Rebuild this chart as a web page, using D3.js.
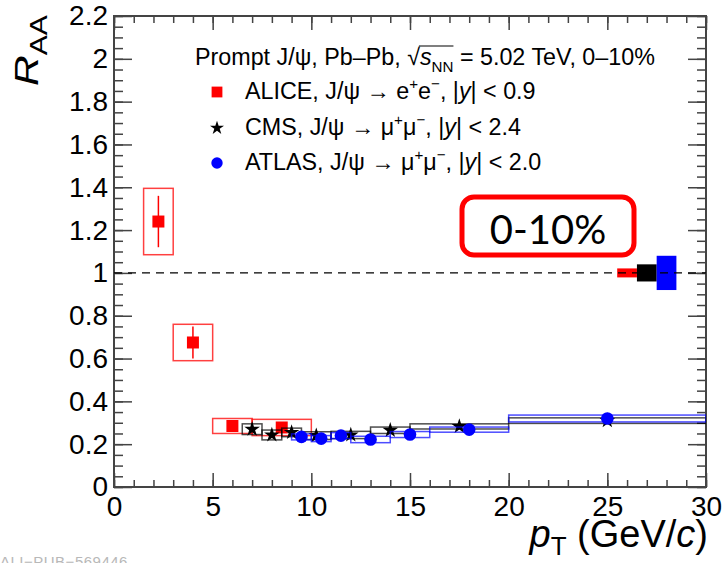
<!DOCTYPE html>
<html>
<head>
<meta charset="utf-8">
<script src="https://cdn.jsdelivr.net/npm/d3@7"></script>
<style>
  body { margin: 0; background: #fff; }
  svg { display: block; font-family: "Liberation Sans", Arial, sans-serif; }
</style>
</head>
<body>
<svg width="725" height="563"></svg>
<script>
// ALICE, J/psi -> e+e-, |y| < 0.9
var aliceX    = [2.25, 4, 6, 8.5];
var aliceLo   = [1.5, 3, 5, 7];
var aliceHi   = [3, 5, 7, 10];
var aliceY    = [1.24, 0.675, 0.285, 0.278];
var aliceStat = [0.12, 0.075, 0.02, 0.025];
var aliceSys  = [0.155, 0.085, 0.035, 0.038];

// CMS, J/psi -> mu+mu-, |y| < 2.4
var cmsX    = [7, 8, 9, 10.25, 12, 14, 17.5, 25];
var cmsLo   = [6.5, 7.5, 8.5, 9.5, 11, 13, 15, 20];
var cmsHi   = [7.5, 8.5, 9.5, 11, 13, 15, 20, 30];
var cmsY    = [0.27, 0.243, 0.255, 0.24, 0.243, 0.265, 0.283, 0.31];
var cmsStat = [0.012, 0.01, 0.01, 0.008, 0.008, 0.008, 0.008, 0.012];
var cmsSys  = [0.025, 0.023, 0.02, 0.018, 0.017, 0.015, 0.012, 0.013];

// ATLAS, J/psi -> mu+mu-, |y| < 2.0
var atlasX    = [9.5, 10.5, 11.5, 13, 15, 18, 25];
var atlasLo   = [9, 10, 11, 12, 14, 16, 20];
var atlasHi   = [10, 11, 12, 14, 16, 20, 30];
var atlasY    = [0.234, 0.226, 0.24, 0.222, 0.245, 0.268, 0.32];
var atlasStat = [0.008, 0.008, 0.008, 0.008, 0.009, 0.01, 0.02];
var atlasSys  = [0.014, 0.014, 0.014, 0.015, 0.014, 0.012, 0.016];

// global (correlated) uncertainties at R_AA = 1
var globalLo  = [25.5, 26.5, 27.5];
var globalHi  = [26.5, 27.5, 28.5];
var globalErr = [0.021, 0.04, 0.08];
var globalCol = ["#ff0000", "#000000", "#0000ff"];

var xTicks = [0, 5, 10, 15, 20, 25, 30];
var yTicks = [0, 0.2, 0.4, 0.6, 0.8, 1, 1.2, 1.4, 1.6, 1.8, 2, 2.2];

var svg = d3.select("svg");
var L = 114, R = 706, T = 16, B = 487;

var x = d3.scaleLinear().domain([0, 30]).range([L, R]);
var y = d3.scaleLinear().domain([0, 2.2]).range([B, T]);

var axisCol = "#444";

// minor / major ticks, inside the frame
function ticks(axis, g) {
    g.call(axis);
    g.select(".domain").remove();
    g.selectAll("line").attr("stroke", axisCol).attr("stroke-width", 1.5);
}
var xMinor = d3.range(0, 31, 1);
var yMinor = d3.range(0, 2.2001, 0.05);

ticks(d3.axisBottom(x).tickValues(xMinor).tickSize(-7).tickFormat(""),
      svg.append("g").attr("transform", "translate(0," + B + ")"));
ticks(d3.axisTop(x).tickValues(xMinor).tickSize(-7).tickFormat(""),
      svg.append("g").attr("transform", "translate(0," + T + ")"));
ticks(d3.axisLeft(y).tickValues(yMinor).tickSize(-9).tickFormat(""),
      svg.append("g").attr("transform", "translate(" + L + ",0)"));
ticks(d3.axisRight(y).tickValues(yMinor).tickSize(-9).tickFormat(""),
      svg.append("g").attr("transform", "translate(" + R + ",0)"));

var xAx = svg.append("g").attr("transform", "translate(0," + B + ")");
ticks(d3.axisBottom(x).tickValues(xTicks).tickSize(-14).tickPadding(9).tickFormat(d3.format("d")), xAx);
ticks(d3.axisTop(x).tickValues(xTicks).tickSize(-14).tickFormat(""),
      svg.append("g").attr("transform", "translate(0," + T + ")"));
var yAx = svg.append("g").attr("transform", "translate(" + L + ",0)");
ticks(d3.axisLeft(y).tickValues(yTicks).tickSize(-18).tickPadding(6).tickFormat(function(d) { return d3.format("~g")(d); }), yAx);
ticks(d3.axisRight(y).tickValues(yTicks).tickSize(-18).tickFormat(""),
      svg.append("g").attr("transform", "translate(" + R + ",0)"));

svg.selectAll("g text")
    .attr("fill", "#000")
    .attr("font-family", "Liberation Sans, Arial, sans-serif")
    .attr("font-size", 28);

svg.append("rect")
    .attr("x", L).attr("y", T).attr("width", R - L).attr("height", B - T)
    .attr("fill", "none").attr("stroke", axisCol).attr("stroke-width", 2);

// plot content clipped to the frame
svg.append("clipPath").attr("id", "frame")
    .append("rect").attr("x", L).attr("y", T).attr("width", R - L).attr("height", B - T);
var plot = svg.append("g").attr("clip-path", "url(#frame)");

// global boxes then dashed unity line
globalLo.forEach(function(lo, i) {
    plot.append("rect")
        .attr("x", x(lo)).attr("width", x(globalHi[i]) - x(lo))
        .attr("y", y(1 + globalErr[i])).attr("height", y(1 - globalErr[i]) - y(1 + globalErr[i]))
        .attr("fill", globalCol[i]);
});
plot.append("line")
    .attr("x1", x(0)).attr("x2", x(30)).attr("y1", y(1)).attr("y2", y(1))
    .attr("stroke", "#000").attr("stroke-width", 1.3).attr("stroke-dasharray", "8,6");

function series(X, Lo, Hi, Y, St, Sy, boxCol, col, marker) {
    var g = plot.append("g");
    g.selectAll("rect.sys").data(X).enter().append("rect")
        .attr("x", function(d, i) { return x(Lo[i]); })
        .attr("width", function(d, i) { return x(Hi[i]) - x(Lo[i]); })
        .attr("y", function(d, i) { return y(Y[i] + Sy[i]); })
        .attr("height", function(d, i) { return y(Y[i] - Sy[i]) - y(Y[i] + Sy[i]); })
        .attr("fill", "none").attr("stroke", boxCol).attr("stroke-width", 1.5);
    g.selectAll("line.stat").data(X).enter().append("line")
        .attr("x1", function(d) { return x(d); }).attr("x2", function(d) { return x(d); })
        .attr("y1", function(d, i) { return y(Y[i] + St[i]); })
        .attr("y2", function(d, i) { return y(Y[i] - St[i]); })
        .attr("stroke", col).attr("stroke-width", 1.5);
    g.selectAll("path.mk").data(X).enter().append("path")
        .attr("d", marker)
        .attr("transform", function(d, i) { return "translate(" + x(d) + "," + y(Y[i]) + ")"; })
        .attr("fill", col);
}

var sqMark = "M-6,-6H6V6H-6Z";
var starMark = d3.symbol().type(d3.symbolStar).size(75)();
var dotMark = d3.symbol().type(d3.symbolCircle).size(125)();

series(aliceX, aliceLo, aliceHi, aliceY, aliceStat, aliceSys, "rgba(255,0,0,0.75)", "#ff0000", sqMark);
series(cmsX, cmsLo, cmsHi, cmsY, cmsStat, cmsSys, "rgba(0,0,0,0.7)", "#000", starMark);
series(atlasX, atlasLo, atlasHi, atlasY, atlasStat, atlasSys, "rgba(0,0,255,0.7)", "#0000ff", dotMark);

// rich text helper: [text, kind] with kind in "", "i", "sup", "sub"
function rich(t, parts, fs) {
    var shift = 0;
    parts.forEach(function(p) {
        var target = p[1] === "sup" ? -0.42 * fs : (p[1] === "sub" ? 0.3 * fs : 0);
        var ts = t.append("tspan").attr("dy", target - shift).text(p[0]);
        shift = target;
        if (p[1] === "sup" || p[1] === "sub") ts.attr("font-size", fs * 0.65);
        if (p[1] === "i") ts.attr("font-style", "italic");
    });
    return t;
}

// legend
var lf = 23.3;
var head = rich(svg.append("text").attr("x", 195).attr("y", 65).attr("font-size", lf),
    [["Prompt J/\u03C8, Pb\u2013Pb, \u221A", ""], ["s", "i"], ["NN", "sub"], [" = 5.02 TeV, 0\u201310%", ""]], lf);
(function() {
    var n = head.node(), s = n.textContent;
    var i0 = s.indexOf("\u221A"), i1 = s.indexOf("NN") + 1;
    var a = n.getExtentOfChar(i0), b = n.getExtentOfChar(i1);
    svg.append("line")
        .attr("x1", a.x + a.width - 1).attr("x2", b.x + b.width)
        .attr("y1", a.y + 2).attr("y2", a.y + 2)
        .attr("stroke", "#000").attr("stroke-width", 1.2);
})();

var legRows = [
    { y: 99, mark: sqMark, col: "#ff0000", parts: [["ALICE, J/\u03C8 \u2192 e", ""], ["+", "sup"], ["e", ""], ["\u2212", "sup"], [", |", ""], ["y", "i"], ["| < 0.9", ""]] },
    { y: 135, mark: starMark, col: "#000", parts: [["CMS, J/\u03C8 \u2192 \u03BC", ""], ["+", "sup"], ["\u03BC", ""], ["\u2212", "sup"], [", |", ""], ["y", "i"], ["| < 2.4", ""]] },
    { y: 170, mark: dotMark, col: "#0000ff", parts: [["ATLAS, J/\u03C8 \u2192 \u03BC", ""], ["+", "sup"], ["\u03BC", ""], ["\u2212", "sup"], [", |", ""], ["y", "i"], ["| < 2.0", ""]] }
];
legRows.forEach(function(r) {
    svg.append("path").attr("d", r.mark)
        .attr("transform", "translate(217," + (r.y - 7) + ") scale(0.9)")
        .attr("fill", r.col);
    rich(svg.append("text").attr("x", 245).attr("y", r.y).attr("font-size", lf), r.parts, lf);
});

// axis titles
var yt = svg.append("text").attr("transform", "translate(38,86) rotate(-90) scale(1.25,1)");
yt.append("tspan").attr("font-size", 34).attr("font-style", "italic").text("R");
yt.append("tspan").attr("font-size", 24).attr("dy", 9).text("AA");

var xt = svg.append("text").attr("x", R + 2).attr("y", 547).attr("text-anchor", "end").attr("font-size", 38);
xt.append("tspan").attr("font-style", "italic").text("p");
xt.append("tspan").attr("font-size", 26).attr("dy", 8).text("T");
xt.append("tspan").attr("dy", -8).text(" (GeV/");
xt.append("tspan").attr("font-style", "italic").text("c");
xt.append("tspan").text(")");

// centrality label
svg.append("rect")
    .attr("x", 462).attr("y", 197).attr("width", 172).attr("height", 58).attr("rx", 12)
    .attr("fill", "#fff").attr("stroke", "#ff0000").attr("stroke-width", 5);
svg.append("text")
    .attr("x", 548).attr("y", 244).attr("text-anchor", "middle")
    .attr("font-family", "Lato, 'Open Sans', sans-serif").attr("font-size", 40)
    .text("0-10%");

// watermark
svg.append("text")
    .attr("x", 0).attr("y", 567).attr("font-size", 15).attr("fill", "#b8b8b8")
    .attr("letter-spacing", 0.5)
    .text("ALI\u2212PUB\u2212569446");
</script>
</body>
</html>
